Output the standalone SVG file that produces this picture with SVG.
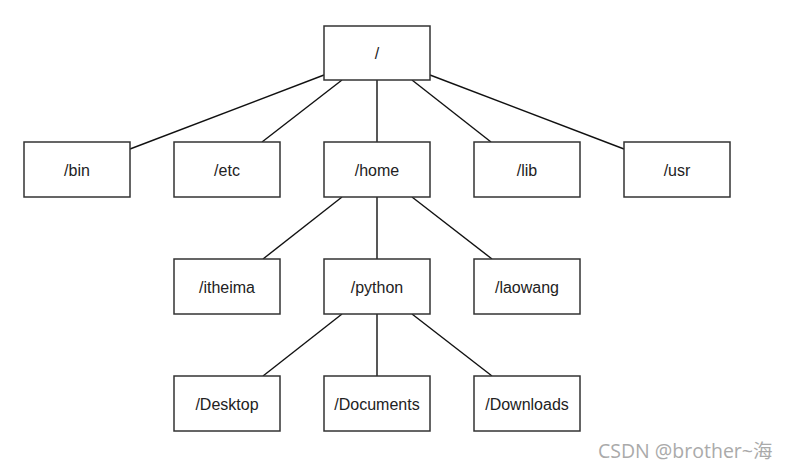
<svg xmlns="http://www.w3.org/2000/svg" width="787" height="468" viewBox="0 0 787 468">
<style>
.box{fill:#fff;stroke:#333;stroke-width:1.5}
.lbl{font-family:"Liberation Sans",Arial,sans-serif;font-size:16px;fill:#222;text-anchor:middle}
.conn line{stroke:#111;stroke-width:1.4}
.wm{font-family:"Open Sans","Noto Sans","Noto Sans CJK SC",sans-serif;font-size:19.5px;fill:#aaa}
</style>
<rect width="787" height="468" fill="#fff"/>
<g class="conn">
<line x1="324" y1="75" x2="130" y2="149"/>
<line x1="342" y1="80" x2="262" y2="142"/>
<line x1="377" y1="80" x2="377" y2="142"/>
<line x1="412" y1="80" x2="491" y2="142"/>
<line x1="430" y1="75" x2="624" y2="149"/>
<line x1="342" y1="197" x2="263" y2="259"/>
<line x1="377" y1="197" x2="377" y2="259"/>
<line x1="412" y1="197" x2="492" y2="259"/>
<line x1="342" y1="314" x2="263" y2="376"/>
<line x1="377" y1="314" x2="377" y2="376"/>
<line x1="412" y1="314" x2="492" y2="376"/>
</g>
<g id="root"><rect class="box" x="324" y="26" width="106" height="54"/><text class="lbl" x="377" y="59">/</text></g>
<g id="bin"><rect class="box" x="24" y="142" width="106" height="55"/><text class="lbl" x="77" y="176">/bin</text></g>
<g id="etc"><rect class="box" x="174" y="142" width="106" height="55"/><text class="lbl" x="227" y="176">/etc</text></g>
<g id="home"><rect class="box" x="324" y="142" width="106" height="55"/><text class="lbl" x="377" y="176">/home</text></g>
<g id="lib"><rect class="box" x="474" y="142" width="106" height="55"/><text class="lbl" x="527" y="176">/lib</text></g>
<g id="usr"><rect class="box" x="624" y="142" width="106" height="55"/><text class="lbl" x="677" y="176">/usr</text></g>
<g id="itheima"><rect class="box" x="174" y="259" width="106" height="55"/><text class="lbl" x="227" y="293">/itheima</text></g>
<g id="python"><rect class="box" x="324" y="259" width="106" height="55"/><text class="lbl" x="377" y="293">/python</text></g>
<g id="laowang"><rect class="box" x="474" y="259" width="106" height="55"/><text class="lbl" x="527" y="293">/laowang</text></g>
<g id="desktop"><rect class="box" x="174" y="376" width="106" height="55"/><text class="lbl" x="227" y="410">/Desktop</text></g>
<g id="documents"><rect class="box" x="324" y="376" width="106" height="55"/><text class="lbl" x="377" y="410">/Documents</text></g>
<g id="downloads"><rect class="box" x="474" y="376" width="106" height="55"/><text class="lbl" x="527" y="410">/Downloads</text></g>
<text class="wm" x="598" y="458">CSDN @brother~海</text>
</svg>
